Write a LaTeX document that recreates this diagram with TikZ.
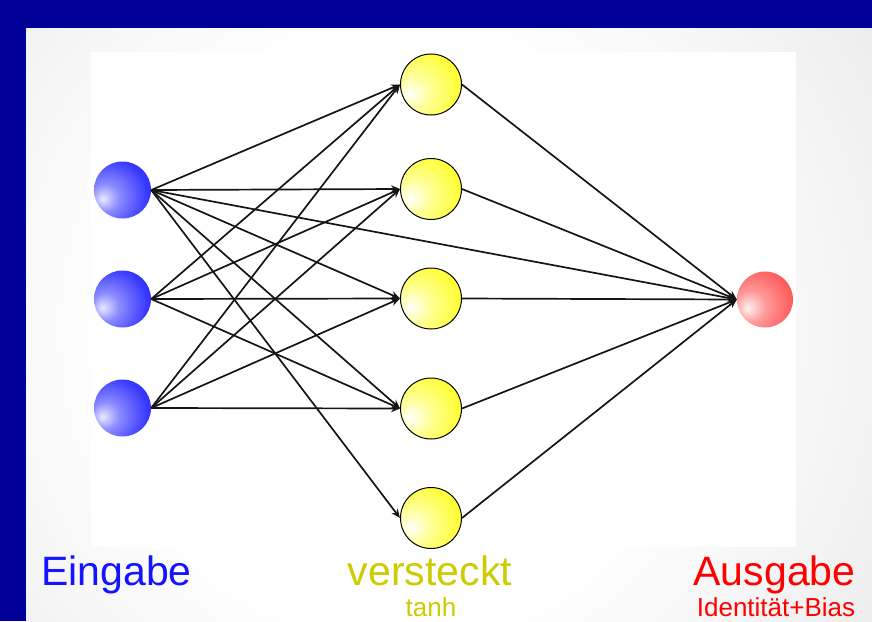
\documentclass[tikz,border=0pt]{standalone}
\usepackage{fontspec}
\setmainfont{Liberation Sans}
\usetikzlibrary{arrows.meta}

\definecolor{navy}{HTML}{000099}
\definecolor{panelgray}{HTML}{C8C8C8}
\definecolor{linkcol}{HTML}{151515}
\definecolor{incol}{HTML}{1414FF}
\definecolor{hidcol}{HTML}{CCCC00}
\definecolor{outcol}{HTML}{FF0000}

% soft light centre of the slide panel
\pgfdeclareradialshading{panelshade}{\pgfpoint{0bp}{0bp}}{%
  color(0bp)=(white); color(13bp)=(white); color(50bp)=(panelgray)}

% glossy balls, highlight left of and a little below the centre
\pgfdeclareradialshading{blueball}{\pgfpoint{-18bp}{-8bp}}{%
  color(0bp)=(white!92!blue); color(12bp)=(blue!45!white);
  color(32bp)=(blue!78!white); color(52bp)=(blue!92!white); color(75bp)=(blue!92!black)}
\pgfdeclareradialshading{yellowball}{\pgfpoint{-18bp}{-8bp}}{%
  color(0bp)=(white); color(14bp)=(yellow!40!white);
  color(36bp)=(yellow!85!white); color(75bp)=(yellow)}
\pgfdeclareradialshading{redball}{\pgfpoint{-16bp}{-8bp}}{%
  color(0bp)=(red!5!white); color(14bp)=(red!40!white);
  color(36bp)=(red!68!white); color(55bp)=(red!85!white); color(75bp)=(red!95!black)}

\tikzset{
  inball/.style={circle, minimum size=57pt, inner sep=0pt, shade, shading=blueball},
  hidball/.style={circle, minimum size=61pt, inner sep=0pt, shade, shading=yellowball,
                  draw=black, line width=1pt},
  outball/.style={circle, minimum size=56pt, inner sep=0pt, shade, shading=redball},
  link/.style={draw=linkcol, line width=1.7pt, -{Stealth[length=9pt,width=7.5pt]}},
  biglbl/.style={inner sep=0pt, anchor=base, font=\fontsize{41}{41}\selectfont},
  smalllbl/.style={inner sep=0pt, anchor=base, font=\fontsize{26}{26}\selectfont},
}

\begin{document}
\begin{tikzpicture}[x=1pt, y=-1pt]
  \useasboundingbox (0,0) rectangle (872,621);

  % slide frame and panel
  \fill[navy] (0,0) rectangle (872,621);
  \begin{scope}
    \clip (26,28) rectangle (872,621);
    \shade[shading=panelshade] (400,330) circle (560pt);
  \end{scope}
  \fill[white] (91,52) rectangle (796,547);

  % input layer
  \node[inball] (i1) at (122.5,190) {};
  \node[inball] (i2) at (122.5,299) {};
  \node[inball] (i3) at (122.5,408) {};

  % hidden layer
  \node[hidball] (h1) at (431,84.5) {};
  \node[hidball] (h2) at (431,189) {};
  \node[hidball] (h3) at (431,298.5) {};
  \node[hidball] (h4) at (431,408.5) {};
  \node[hidball] (h5) at (431,518) {};

  % output
  \node[outball] (o) at (765,299.5) {};

  % input -> hidden
  \foreach \h in {h1,h2,h3,h4,h5}
    \draw[link] (i1.east) -- (\h.west);
  \foreach \i in {i2,i3}
    \foreach \h in {h1,h2,h3,h4}
      \draw[link] (\i.east) -- (\h.west);

  % hidden -> output, plus the direct input connection
  \foreach \h in {h1,h2,h3,h4,h5}
    \draw[link] (\h.east) -- (o.west);
  \draw[link] (i1.east) -- (o.west);

  % layer captions
  \node[biglbl, text=incol]  (tin)  at (116.5,585) {Eingabe};
  \node[biglbl, text=hidcol] (thid) at (430,585) {versteckt};
  \node[biglbl, text=outcol] (tout) at (774.5,585) {Ausgabe};
  \node[smalllbl, text=hidcol] (fhid) at (431,616) {tanh};
  \node[smalllbl, text=outcol] (fout) at (776,616) {Identität+Bias};
\end{tikzpicture}
\end{document}
